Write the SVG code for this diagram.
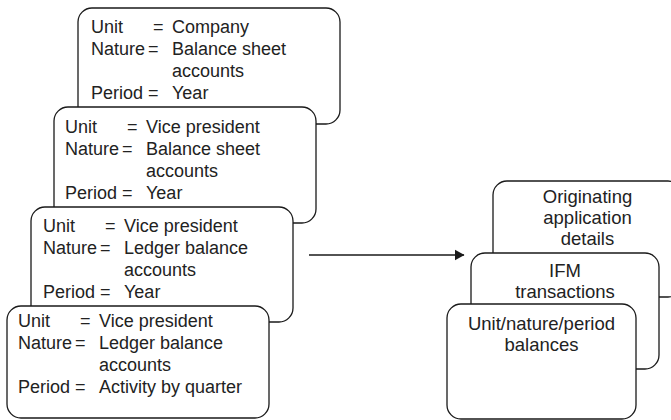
<svg xmlns="http://www.w3.org/2000/svg" width="671" height="420" viewBox="0 0 671 420">
  <defs>
    <style>
      .box { fill: #ffffff; stroke: #1a1a1a; stroke-width: 1.3; }
      .t { font-family: "Liberation Sans", Arial, sans-serif; font-size: 18px; fill: #222222; }
      .c { text-anchor: middle; font-size: 18.5px; }
      .conn { stroke: #1a1a1a; stroke-width: 1.3; fill: none; }
    </style>
    <marker id="arrow" markerWidth="10" markerHeight="12" refX="9.5" refY="6" orient="auto" markerUnits="userSpaceOnUse">
      <path d="M0,0.5 L10,6 L0,11.5 Z" fill="#1a1a1a"/>
    </marker>
  </defs>

  <!-- Left stack: balance selections, back to front -->
  <g id="sel-company">
    <rect class="box" x="78" y="8" width="262" height="116" rx="14"/>
    <text class="t" y="33"><tspan x="91">Unit</tspan><tspan x="153">=</tspan><tspan x="172">Company</tspan></text>
    <text class="t" y="55"><tspan x="91">Nature</tspan><tspan x="148">=</tspan><tspan x="172">Balance sheet</tspan></text>
    <text class="t" x="172" y="77">accounts</text>
    <text class="t" y="99"><tspan x="91">Period</tspan><tspan x="148">=</tspan><tspan x="172">Year</tspan></text>
  </g>

  <g id="sel-vp-balance">
    <rect class="box" x="54" y="107" width="262" height="116" rx="14"/>
    <text class="t" y="133"><tspan x="65">Unit</tspan><tspan x="127">=</tspan><tspan x="146">Vice president</tspan></text>
    <text class="t" y="155"><tspan x="65">Nature</tspan><tspan x="122">=</tspan><tspan x="146">Balance sheet</tspan></text>
    <text class="t" x="146" y="177">accounts</text>
    <text class="t" y="199"><tspan x="65">Period</tspan><tspan x="122">=</tspan><tspan x="146">Year</tspan></text>
  </g>

  <g id="sel-vp-ledger">
    <rect class="box" x="31" y="207" width="262" height="115" rx="14"/>
    <text class="t" y="232"><tspan x="43">Unit</tspan><tspan x="105">=</tspan><tspan x="124">Vice president</tspan></text>
    <text class="t" y="254"><tspan x="43">Nature</tspan><tspan x="100">=</tspan><tspan x="124">Ledger balance</tspan></text>
    <text class="t" x="124" y="276">accounts</text>
    <text class="t" y="298"><tspan x="43">Period</tspan><tspan x="100">=</tspan><tspan x="124">Year</tspan></text>
  </g>

  <g id="sel-vp-quarter">
    <rect class="box" x="7" y="306" width="262" height="112" rx="14"/>
    <text class="t" y="327"><tspan x="18">Unit</tspan><tspan x="80">=</tspan><tspan x="99">Vice president</tspan></text>
    <text class="t" y="349"><tspan x="18">Nature</tspan><tspan x="75">=</tspan><tspan x="99">Ledger balance</tspan></text>
    <text class="t" x="99" y="371">accounts</text>
    <text class="t" y="393"><tspan x="18">Period</tspan><tspan x="75">=</tspan><tspan x="99">Activity by quarter</tspan></text>
  </g>

  <!-- Connector -->
  <g id="connectors">
    <line class="conn" x1="309" y1="255" x2="464" y2="255" marker-end="url(#arrow)"/>
  </g>

  <!-- Right stack: resulting data, back to front -->
  <g id="origin-details">
    <rect class="box" x="493" y="181" width="189" height="116" rx="14"/>
    <text class="t c" x="587.5" y="203">Originating</text>
    <text class="t c" x="587.5" y="224">application</text>
    <text class="t c" x="587.5" y="245">details</text>
  </g>

  <g id="ifm-transactions">
    <rect class="box" x="471" y="253" width="188" height="116" rx="14"/>
    <text class="t c" x="565" y="277">IFM</text>
    <text class="t c" x="565" y="298">transactions</text>
  </g>

  <g id="period-balances">
    <rect class="box" x="447" y="304" width="189" height="115" rx="14"/>
    <text class="t c" x="541.5" y="330">Unit/nature/period</text>
    <text class="t c" x="541.5" y="351">balances</text>
  </g>
</svg>
